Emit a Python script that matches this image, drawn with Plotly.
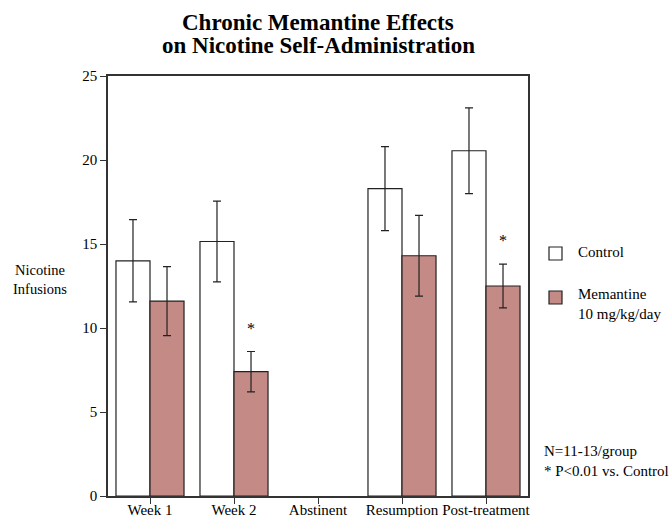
import plotly.graph_objects as go

categories = ["Week 1", "Week 2", "Abstinent", "Resumption", "Post-treatment"]
control = [14.0, 15.15, None, 18.3, 20.55]
control_err = [2.45, 2.4, None, 2.5, 2.55]
memantine = [11.6, 7.4, None, 14.3, 12.5]
memantine_err = [2.05, 1.2, None, 2.4, 1.3]
star_cats = ["Week 2", "Post-treatment"]
star_y = [10.0, 15.2]

FONT = "Liberation Serif"
MEM_COLOR = "#c48a86"
L, T, W, H = 108, 76, 420, 420


def px(x):
    return (x - L) / W


def py(y):
    return (T + H - y) / H


fig = go.Figure()
fig.add_trace(go.Bar(
    x=categories, y=control, name="Control",
    marker=dict(color="white", line=dict(color="#222", width=1.2)),
    error_y=dict(type="data", array=control_err, visible=True,
                 color="#222", thickness=1.2, width=4),
))
fig.add_trace(go.Bar(
    x=categories, y=memantine, name="Memantine 10 mg/kg/day",
    marker=dict(color=MEM_COLOR, line=dict(color="#222", width=1.2)),
    error_y=dict(type="data", array=memantine_err, visible=True,
                 color="#222", thickness=1.2, width=4),
))

for c, yv in zip(star_cats, star_y):
    fig.add_annotation(x=c, y=yv, text="*", showarrow=False, xshift=17,
                       font=dict(family=FONT, size=16, color="#000"))

# custom legend
fig.add_shape(type="rect", xref="paper", yref="paper",
              x0=px(549), x1=px(562), y0=py(260), y1=py(247),
              line=dict(color="#222", width=1.2), fillcolor="white")
fig.add_shape(type="rect", xref="paper", yref="paper",
              x0=px(549), x1=px(562), y0=py(304), y1=py(291),
              line=dict(color="#222", width=1.2), fillcolor=MEM_COLOR)
fig.add_annotation(xref="paper", yref="paper", x=px(576), y=py(252),
                   xanchor="left", yanchor="middle", showarrow=False, align="left",
                   text="Control", font=dict(family=FONT, size=15, color="#000"))
fig.add_annotation(xref="paper", yref="paper", x=px(576), y=py(304),
                   xanchor="left", yanchor="middle", showarrow=False, align="left",
                   text="Memantine<br>10 mg/kg/day", font=dict(family=FONT, size=15, color="#000"))
fig.add_annotation(xref="paper", yref="paper", x=px(542), y=py(461),
                   xanchor="left", yanchor="middle", showarrow=False, align="left",
                   text="N=11-13/group<br>* P<0.01 vs. Control",
                   font=dict(family=FONT, size=15, color="#000"))
fig.add_annotation(xref="paper", yref="paper", x=px(40), y=py(279),
                   xanchor="center", yanchor="middle", showarrow=False, align="center",
                   text="Nicotine<br>Infusions",
                   font=dict(family=FONT, size=14.5, color="#000"))
fig.add_annotation(xref="paper", yref="paper", x=px(318), y=py(22),
                   xanchor="center", yanchor="middle", showarrow=False,
                   text="<b>Chronic Memantine Effects</b>",
                   font=dict(family=FONT, size=23, color="#000"))
fig.add_annotation(xref="paper", yref="paper", x=px(318), y=py(45),
                   xanchor="center", yanchor="middle", showarrow=False,
                   text="<b>on Nicotine Self-Administration</b>",
                   font=dict(family=FONT, size=23, color="#000"))

fig.update_layout(
    width=669, height=517,
    margin=dict(l=L, r=669 - L - W, t=T, b=517 - T - H),
    paper_bgcolor="white", plot_bgcolor="white",
    barmode="group", bargap=0.19, bargroupgap=0,
    showlegend=False,
    font=dict(family=FONT, size=15, color="#000"),
    xaxis=dict(range=[-0.5, 4.5], showline=True, linecolor="#333", linewidth=1.5,
               mirror=True, ticks="outside", ticklen=6, tickcolor="#333",
               ticklabelstandoff=-7,
               tickfont=dict(family=FONT, size=15, color="#000"), showgrid=False,
               automargin=False),
    yaxis=dict(range=[0, 25], dtick=5, showline=True, linecolor="#333", linewidth=1.5,
               mirror=True, ticks="outside", ticklen=6, tickcolor="#333",
               tickfont=dict(family=FONT, size=15, color="#000"), showgrid=False,
               zeroline=False, automargin=False),
)

fig.write_html("out.html", config={"displayModeBar": False},
               post_script="document.body.style.margin='0';document.body.style.overflow='hidden';")
